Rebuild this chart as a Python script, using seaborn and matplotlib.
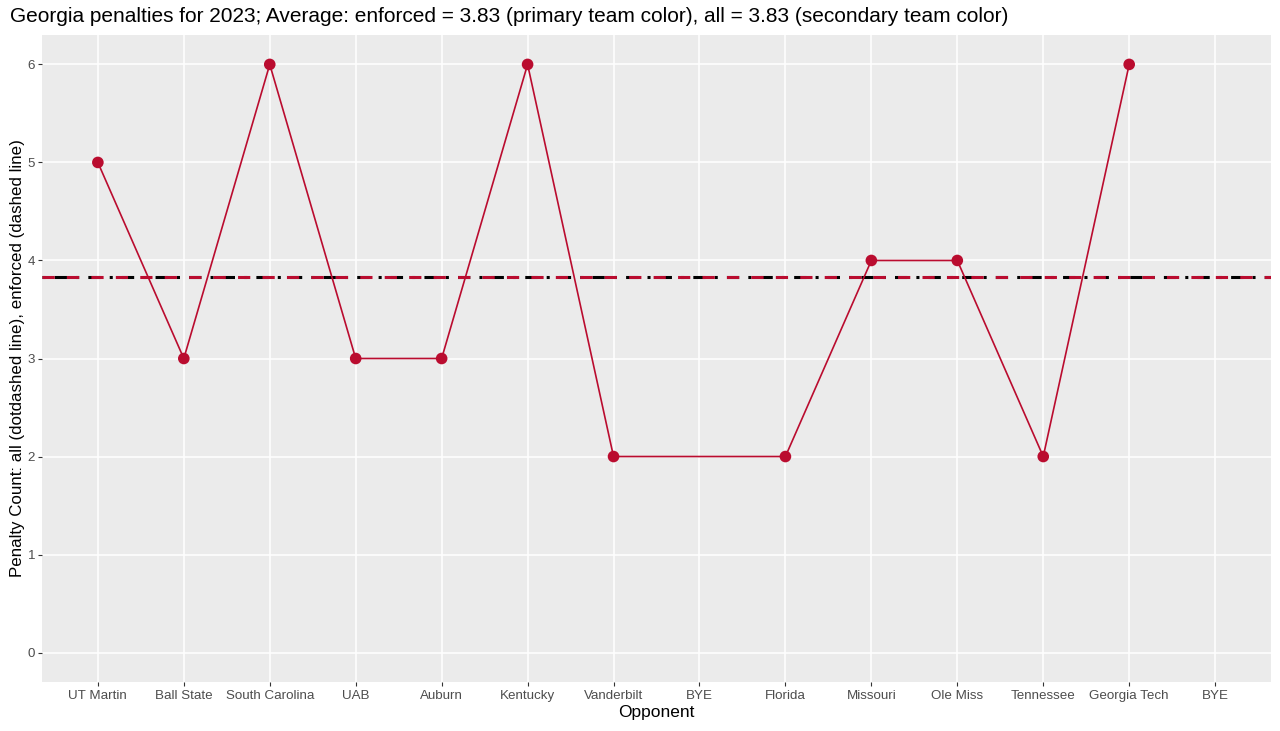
import matplotlib
matplotlib.use("Agg")
import matplotlib.pyplot as plt
import numpy as np
import pandas as pd
import seaborn as sns

# Georgia 2023 penalties by week
weeks = list(range(1, 15))
opponents = ["UT Martin", "Ball State", "South Carolina", "UAB", "Auburn", "Kentucky",
             "Vanderbilt", "BYE", "Florida", "Missouri", "Ole Miss", "Tennessee",
             "Georgia Tech", "BYE"]
penalties = [5, 3, 6, 3, 3, 6, 2, np.nan, 2, 4, 4, 2, 6, np.nan]
avg_enforced = 3.83
avg_all = 3.83

primary = "#BA0C2F"
secondary = "#000000"

sns.set_theme(style="darkgrid", rc={
    "axes.facecolor": "#EBEBEB",
    "grid.color": "white",
    "grid.linewidth": 1.1,
    "axes.edgecolor": "#EBEBEB",
    "xtick.bottom": True,
    "ytick.left": True,
    "xtick.major.size": 3,
    "ytick.major.size": 3,
    "xtick.major.width": 0.8,
    "ytick.major.width": 0.8,
    "xtick.color": "#333333",
    "ytick.color": "#333333",
    "xtick.major.pad": 3,
    "ytick.major.pad": 2,
})
plt.rcParams["font.family"] = ["Liberation Sans", "DejaVu Sans"]

df = pd.DataFrame({"week": weeks, "opponent": opponents, "penalties": penalties})
played = df.dropna()

fig = plt.figure(figsize=(12.8, 7.31), dpi=100)
ax = fig.add_axes([42 / 1280, 49 / 731, (1271 - 42) / 1280, (696 - 49) / 731])

ax.axhline(avg_all, color=secondary, linewidth=2.2, dashes=(1, 3, 4, 3), zorder=2)
ax.axhline(avg_enforced, color=primary, linewidth=2.2, dashes=(4, 4), zorder=3)

sns.lineplot(data=played, x="week", y="penalties", color=primary, linewidth=1.2,
             ax=ax, zorder=4)
sns.scatterplot(data=played, x="week", y="penalties", color=primary, s=70,
                edgecolor="none", ax=ax, zorder=5)

ax.set_xlim(1 - 13 * 0.05, 14 + 13 * 0.05)
ax.set_ylim(-0.3, 6.3)
ax.set_xticks(weeks)
ax.set_xticklabels(opponents)
ax.set_yticks(range(0, 7))
ax.tick_params(axis="both", labelsize=9.6, labelcolor="#4D4D4D")
ax.grid(True, which="major")
for s in ax.spines.values():
    s.set_visible(False)

ax.set_xlabel("Opponent", fontsize=12.5, color="black", labelpad=2)
ax.set_ylabel("Penalty Count: all (dotdashed line), enforced (dashed line)",
              fontsize=12.2, color="black", labelpad=2)

fig.text(10 / 1280, 1 - 17 / 731,
         "Georgia penalties for 2023; Average: enforced = 3.83 (primary team color), "
         "all = 3.83 (secondary team color)",
         fontsize=15, ha="left", va="center", color="black")

fig.savefig("out.png", dpi=100, facecolor="white")
